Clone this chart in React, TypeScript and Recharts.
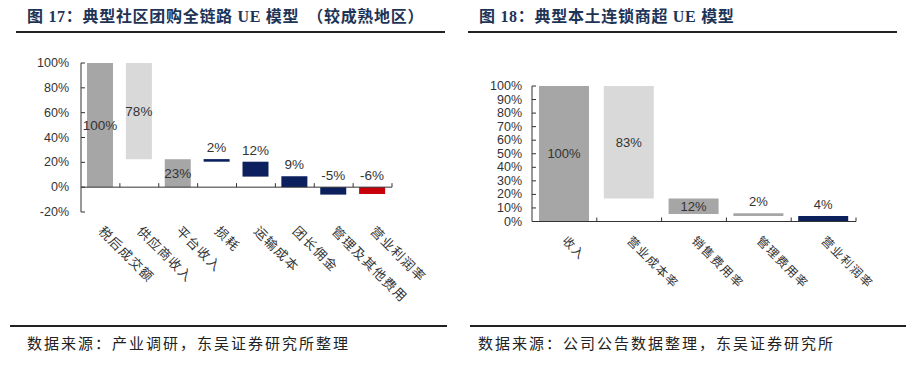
import React from "react";
import { BarChart, Bar, XAxis, YAxis, Cell, LabelList, ReferenceLine } from "recharts";

const GRAY = "#a6a6a6";
const LIGHT = "#d9d9d9";
const NAVY = "#0c205e";
const RED = "#c8000a";
const AXIS = "#333";
const TITLE = "#1e3457";
const LATIN = "'Liberation Sans', Arial, sans-serif";
const CJK = "'Noto Sans CJK SC', sans-serif";

// 图17 典型社区团购全链路 UE 模型（较成熟地区）
const ueCats = ["税后成交额", "供应商收入", "平台收入", "损耗", "运输成本", "团长佣金", "管理及其他费用", "营业利润率"];
const ueLow = [0, 22.5, 0, 20.5, 8.5, 0, -6, -5.5];
const ueHigh = [100, 100, 22.5, 22.6, 20.5, 8.8, 0, 0];
const ueLabels = ["100%", "78%", "23%", "2%", "12%", "9%", "-5%", "-6%"];
const ueInside = [true, true, true, false, false, false, false, false];
const ueColors = [GRAY, LIGHT, GRAY, NAVY, NAVY, NAVY, NAVY, RED];
const ueTicks = [-20, 0, 20, 40, 60, 80, 100];

// 图18 典型本土连锁商超 UE 模型
const smCats = ["收入", "营业成本率", "销售费用率", "管理费用率", "营业利润率"];
const smLow = [0, 17, 5.5, 4, 0];
const smHigh = [100, 100, 17, 6, 4];
const smLabels = ["100%", "83%", "12%", "2%", "4%"];
const smInside = [true, true, true, false, false];
const smColors = [GRAY, LIGHT, GRAY, GRAY, NAVY];
const smTicks = [0, 10, 20, 30, 40, 50, 60, 70, 80, 90, 100];

// zero line with small upward ticks at the end of each category
const zeroAxis = (count: number) => (p: any) => {
  const step = (p.x2 - p.x1) / count;
  return (
    <g>
      <line x1={p.x1} y1={p.y1} x2={p.x2} y2={p.y1} stroke={AXIS} strokeWidth={1} />
      {Array.from({ length: count }, (_, i) => (
        <line key={i} x1={p.x1 + step * (i + 1)} x2={p.x1 + step * (i + 1)} y1={p.y1} y2={p.y1 - 4} stroke={AXIS} />
      ))}
    </g>
  );
};

function Waterfall({ cats, low, high, labels, inside, colors, ticks, domain, width, height, margin, yWidth, xHeight, barSize, yFont, labelFont, catFont, catSpacing, yGap }: any) {
  const data = cats.map((c: string, i: number) => ({ name: c, range: [low[i], high[i]] }));

  const yTick = (p: any) => (
    <g>
      <text x={p.x} y={p.y} textAnchor="end" dominantBaseline="central" fontSize={yFont} fontFamily={LATIN} fill="#333">
        {p.payload.value}%
      </text>
      <line x1={p.x + yGap} x2={p.x + yGap + 4} y1={p.y} y2={p.y} stroke={AXIS} />
    </g>
  );

  const xTick = (p: any) => {
    const ax = p.x - 3;
    const ay = p.y + 20;
    return (
      <text x={ax} y={ay} transform={`rotate(45 ${ax} ${ay})`} textAnchor="start" fontSize={catFont} letterSpacing={catSpacing} fontFamily={CJK} fill="#333">
        {p.payload.value}
      </text>
    );
  };

  const renderLabel = (p: any) => {
    const vb = p.viewBox ?? p;
    const cx = vb.x + vb.width / 2;
    const i = p.index;
    if (inside[i]) {
      return (
        <text x={cx} y={vb.y + vb.height / 2} textAnchor="middle" dominantBaseline="central" fontSize={labelFont} fontFamily={LATIN} fill="#333">
          {labels[i]}
        </text>
      );
    }
    return (
      <text x={cx} y={vb.y - 7} textAnchor="middle" fontSize={labelFont} fontFamily={LATIN} fill="#333">
        {labels[i]}
      </text>
    );
  };

  return (
    <BarChart width={width} height={height} data={data} margin={margin} barSize={barSize}>
      <XAxis dataKey="name" axisLine={false} tickLine={false} tickSize={0} tickMargin={0} height={xHeight} interval={0} tick={xTick} />
      <YAxis domain={domain} ticks={ticks} interval={0} width={yWidth} axisLine={{ stroke: AXIS }} tickLine={false} tickSize={0} tickMargin={yGap} tick={yTick} />
      <Bar dataKey="range" isAnimationActive={false}>
        {data.map((_: any, i: number) => (
          <Cell key={i} fill={colors[i]} />
        ))}
        <LabelList dataKey="range" content={renderLabel} />
      </Bar>
      <ReferenceLine y={0} shape={zeroAxis(cats.length)} />
    </BarChart>
  );
}

const titleStyle: React.CSSProperties = {
  position: "absolute",
  top: 8,
  fontSize: 16,
  fontWeight: 700,
  letterSpacing: 0.7,
  lineHeight: "18px",
  color: TITLE,
  fontFamily: "'Liberation Serif', 'Noto Sans CJK SC', serif",
  whiteSpace: "nowrap",
};

const sourceStyle: React.CSSProperties = {
  position: "absolute",
  top: 334,
  fontSize: 15,
  letterSpacing: 2,
  lineHeight: "18px",
  color: "#222",
  fontFamily: CJK,
  whiteSpace: "nowrap",
};

const rule = (left: number, right: number, top: number): React.CSSProperties => ({
  position: "absolute",
  left,
  top,
  width: right - left,
  height: 2,
  background: "#222",
});

export default function App() {
  return (
    <div style={{ position: "absolute", left: 0, top: 0, width: 914, height: 376, background: "#fff", overflow: "hidden" }}>
      <div style={{ ...titleStyle, left: 27 }}>
        图 17：典型社区团购全链路 UE 模型<span style={{ paddingLeft: 8 }}>（</span>较成熟地区）
      </div>
      <div style={{ ...titleStyle, left: 479 }}>图 18：典型本土连锁商超 UE 模型</div>
      <div style={rule(16, 445, 31)} />
      <div style={rule(468, 897, 31)} />

      <div style={{ position: "absolute", left: 0, top: 0 }}>
        <Waterfall
          cats={ueCats} low={ueLow} high={ueHigh} labels={ueLabels} inside={ueInside} colors={ueColors}
          ticks={ueTicks} domain={[-20, 100]} width={450} height={320}
          margin={{ top: 63, right: 58, bottom: 18, left: 21 }} yWidth={60} xHeight={90} barSize={26}
          yFont={12.5} labelFont={13.5} catFont={13} catSpacing={1.4} yGap={12}
        />
      </div>
      <div style={{ position: "absolute", left: 460, top: 0 }}>
        <Waterfall
          cats={smCats} low={smLow} high={smHigh} labels={smLabels} inside={smInside} colors={smColors}
          ticks={smTicks} domain={[0, 100]} width={450} height={320}
          margin={{ top: 86, right: 54, bottom: 18.5, left: 12 }} yWidth={60} xHeight={80} barSize={50}
          yFont={12.5} labelFont={13} catFont={12} catSpacing={1.4} yGap={10}
        />
      </div>

      <div style={rule(10, 447, 325)} />
      <div style={rule(470, 906, 325)} />
      <div style={{ ...sourceStyle, left: 27 }}>数据来源：产业调研，东吴证券研究所整理</div>
      <div style={{ ...sourceStyle, left: 478 }}>数据来源：公司公告数据整理，东吴证券研究所</div>
    </div>
  );
}
